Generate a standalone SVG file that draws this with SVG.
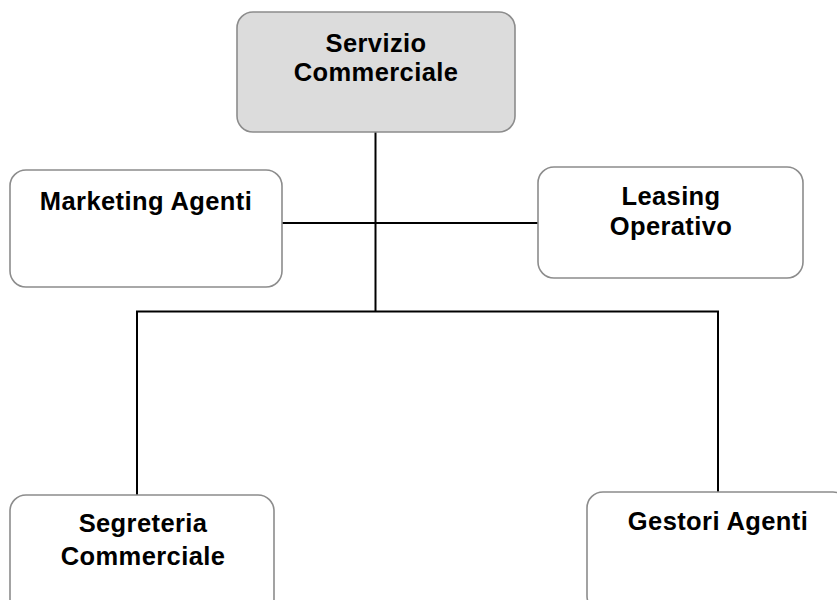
<svg xmlns="http://www.w3.org/2000/svg" width="837" height="600" viewBox="0 0 837 600">
<style>
.box{fill:#ffffff;stroke:#8c8c8c;stroke-width:1.6}
.top{fill:#dcdcdc}
.lbl{font-family:"Liberation Sans",Arial,sans-serif;font-weight:bold;font-size:25.5px;letter-spacing:0.4px;fill:#000;text-anchor:middle}
.conn{stroke:#000;stroke-width:2;fill:none}
</style>
<rect width="837" height="600" fill="#ffffff"/>
<g id="connectors">
<path class="conn" d="M375.5 132 V312"/>
<path class="conn" d="M282 223 H538"/>
<path class="conn" d="M137 495 V311.5 H718 V492"/>
</g>
<g id="servizio-commerciale">
<rect class="box top" x="237" y="12" width="278" height="120" rx="16"/>
<text class="lbl" x="376" y="52">Servizio</text>
<text class="lbl" x="376" y="81">Commerciale</text>
</g>
<g id="marketing-agenti">
<rect class="box" x="10" y="170" width="272" height="117" rx="16"/>
<text class="lbl" x="146" y="210">Marketing Agenti</text>
</g>
<g id="leasing-operativo">
<rect class="box" x="538" y="167" width="265" height="111" rx="16"/>
<text class="lbl" x="671" y="205">Leasing</text>
<text class="lbl" x="671" y="235">Operativo</text>
</g>
<g id="segreteria-commerciale">
<rect class="box" x="10" y="495" width="264" height="120" rx="16"/>
<text class="lbl" x="143" y="532">Segreteria</text>
<text class="lbl" x="143" y="565">Commerciale</text>
</g>
<g id="gestori-agenti">
<rect class="box" x="587" y="492" width="262" height="120" rx="16"/>
<text class="lbl" x="718" y="530">Gestori Agenti</text>
</g>
</svg>
